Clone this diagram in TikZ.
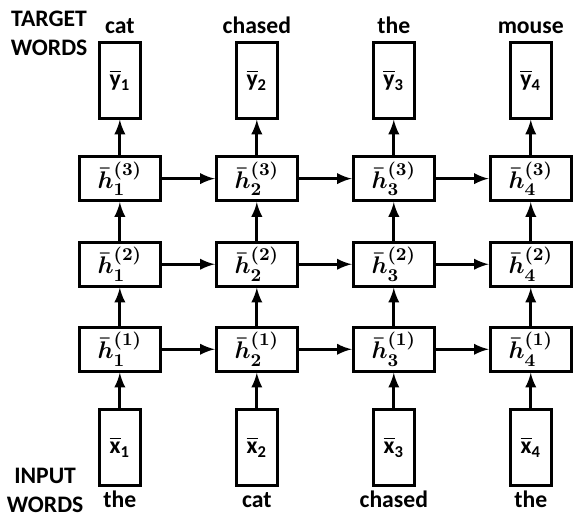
\documentclass[tikz,border=0pt]{standalone}
\usepackage{amsmath}
\usepackage{amssymb}
\usepackage{bm}
\usepackage[no-math]{fontspec}
\setmainfont{Carlito}
\usetikzlibrary{positioning}

\begin{document}
\begin{tikzpicture}[
    font=\fontsize{11.8}{14.4}\selectfont\bfseries,
    hid/.style={rectangle, draw, line width=1.5pt, minimum width=1.42cm, minimum height=0.77cm, inner sep=0pt, font=\fontsize{13}{15}\selectfont},
    vec/.style={rectangle, draw, line width=1.5pt, minimum width=0.72cm, minimum height=1.32cm, inner sep=0pt},
    word/.style={anchor=base, inner sep=0pt},
    link/.style={-latex, line width=1.5pt}
]
\useasboundingbox (0,0) rectangle (10.04,9.06);

% Target words
\node[vec] (y1) at (2.1,7.65) {$\overline{\text{y}}_{\text{1}}$};
\node[vec] (y2) at (4.5,7.65) {$\overline{\text{y}}_{\text{2}}$};
\node[vec] (y3) at (6.9,7.65) {$\overline{\text{y}}_{\text{3}}$};
\node[vec] (y4) at (9.3,7.65) {$\overline{\text{y}}_{\text{4}}$};
\node[word] (ty1) at (2.1,8.47) {cat};
\node[word] (ty2) at (4.5,8.47) {chased};
\node[word] (ty3) at (6.9,8.47) {the};
\node[word] (ty4) at (9.3,8.47) {mouse};

% Hidden layers
\node[hid] (h13) at (2.1,5.93) {$\bm{\bar{h}_1^{(3)}}$};
\node[hid] (h23) at (4.5,5.93) {$\bm{\bar{h}_2^{(3)}}$};
\node[hid] (h33) at (6.9,5.93) {$\bm{\bar{h}_3^{(3)}}$};
\node[hid] (h43) at (9.3,5.93) {$\bm{\bar{h}_4^{(3)}}$};
\node[hid] (h12) at (2.1,4.43) {$\bm{\bar{h}_1^{(2)}}$};
\node[hid] (h22) at (4.5,4.43) {$\bm{\bar{h}_2^{(2)}}$};
\node[hid] (h32) at (6.9,4.43) {$\bm{\bar{h}_3^{(2)}}$};
\node[hid] (h42) at (9.3,4.43) {$\bm{\bar{h}_4^{(2)}}$};
\node[hid] (h11) at (2.1,2.94) {$\bm{\bar{h}_1^{(1)}}$};
\node[hid] (h21) at (4.5,2.94) {$\bm{\bar{h}_2^{(1)}}$};
\node[hid] (h31) at (6.9,2.94) {$\bm{\bar{h}_3^{(1)}}$};
\node[hid] (h41) at (9.3,2.94) {$\bm{\bar{h}_4^{(1)}}$};

% Input words
\node[vec] (x1) at (2.1,1.22) {$\overline{\text{x}}_{\text{1}}$};
\node[vec] (x2) at (4.5,1.22) {$\overline{\text{x}}_{\text{2}}$};
\node[vec] (x3) at (6.9,1.22) {$\overline{\text{x}}_{\text{3}}$};
\node[vec] (x4) at (9.3,1.22) {$\overline{\text{x}}_{\text{4}}$};
\node[word] (tx1) at (2.1,0.16) {the};
\node[word] (tx2) at (4.5,0.16) {cat};
\node[word] (tx3) at (6.9,0.16) {chased};
\node[word] (tx4) at (9.3,0.16) {the};

% Side labels
\node[align=center, anchor=north, inner sep=0pt] (target) at (0.86,8.88) {TARGET\\WORDS};
\node[align=center, anchor=north, inner sep=0pt] (input) at (0.79,0.86) {INPUT\\WORDS};

% Vertical connections
\draw[link] (x1) -- (h11);
\draw[link] (x2) -- (h21);
\draw[link] (x3) -- (h31);
\draw[link] (x4) -- (h41);
\draw[link] (h11) -- (h12);
\draw[link] (h21) -- (h22);
\draw[link] (h31) -- (h32);
\draw[link] (h41) -- (h42);
\draw[link] (h12) -- (h13);
\draw[link] (h22) -- (h23);
\draw[link] (h32) -- (h33);
\draw[link] (h42) -- (h43);
\draw[link] (h13) -- (y1);
\draw[link] (h23) -- (y2);
\draw[link] (h33) -- (y3);
\draw[link] (h43) -- (y4);

% Horizontal connections
\draw[link] (h11) -- (h21);
\draw[link] (h21) -- (h31);
\draw[link] (h31) -- (h41);
\draw[link] (h12) -- (h22);
\draw[link] (h22) -- (h32);
\draw[link] (h32) -- (h42);
\draw[link] (h13) -- (h23);
\draw[link] (h23) -- (h33);
\draw[link] (h33) -- (h43);

\end{tikzpicture}
\end{document}
